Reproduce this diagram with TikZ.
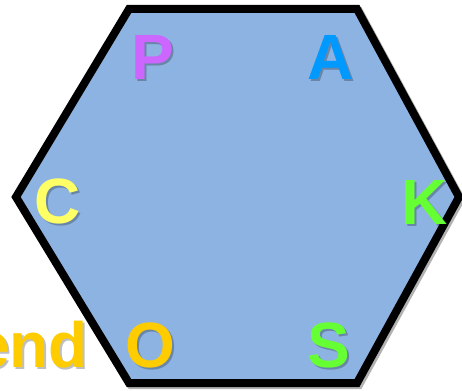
\documentclass[tikz,border=0pt]{standalone}
\usepackage{fontspec}
\setmainfont{Liberation Sans}
\begin{document}
\begin{tikzpicture}[x=1pt,y=-1pt,
  letter/.style={font=\fontsize{64}{64}\selectfont\bfseries, inner sep=0pt, anchor=base},
  shade/.style={letter, text=black, opacity=0.25},
  hexline/.style={line width=8pt, line join=miter}]
\useasboundingbox (0,0) rectangle (462,390);
% hexagon shadow
\draw[hexline, draw=black, opacity=0.3, shift={(2,2)}]
  (129,9) -- (357,9) -- (459,197) -- (357,383) -- (129,383) -- (16,197) -- cycle;
\draw[hexline, fill={rgb,255:red,141;green,179;blue,226}, draw=black]
  (129,9) -- (357,9) -- (459,197) -- (357,383) -- (129,383) -- (16,197) -- cycle;
% letter shadows
\foreach \t/\x/\y in {P/155/82, A/333/82, C/60/225, K/427/226, O/152/369, S/331/369}
  \node[shade] at (\x,\y) {\t};
\node[shade, anchor=base east] at (90,369) {end};
% letters
\node[letter, text={rgb,255:red,204;green,102;blue,255}] (p) at (153,80) {P};
\node[letter, text={rgb,255:red,0;green,153;blue,255}] (a) at (331,80) {A};
\node[letter, text={rgb,255:red,255;green,255;blue,102}] (c) at (58,223) {C};
\node[letter, text={rgb,255:red,102;green,255;blue,51}] (k) at (425,224) {K};
\node[letter, text={rgb,255:red,255;green,204;blue,0}] (o) at (150,367) {O};
\node[letter, text={rgb,255:red,102;green,255;blue,51}] (s) at (329,367) {S};
\node[letter, anchor=base east, text={rgb,255:red,255;green,204;blue,0}] (e) at (88,367) {end};
\end{tikzpicture}
\end{document}
